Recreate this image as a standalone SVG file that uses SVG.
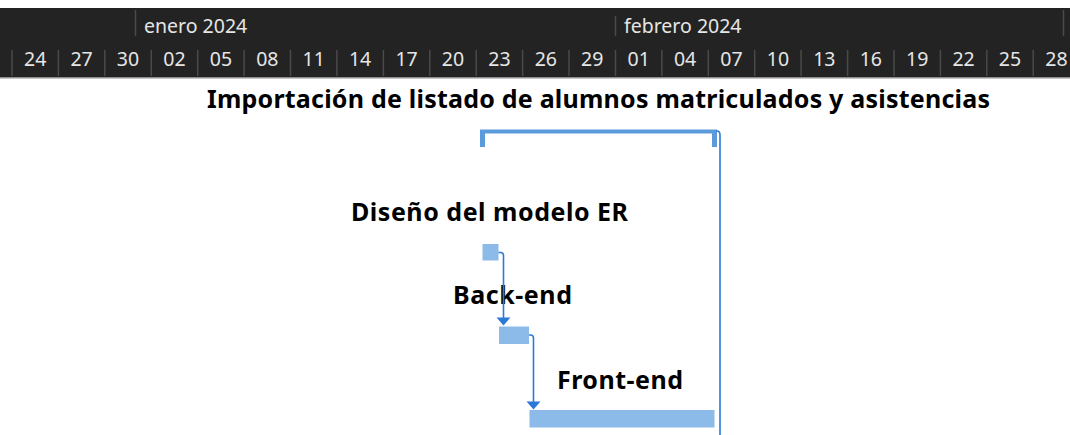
<svg xmlns="http://www.w3.org/2000/svg" width="1070" height="435" viewBox="0 0 1070 435">
<style>
.hdr{font-family:"Noto Sans","Open Sans",sans-serif;font-size:19.5px;fill:#e6e6e6}
.d{text-anchor:middle}
.sep{stroke:#4a4a4a;stroke-width:1.5}
.lbl{font-family:"Noto Sans","Open Sans",sans-serif;font-weight:700;font-size:25px;fill:#000}
.bar{fill:#8cbbea}
.sum{fill:#5b9bdb}
.con{fill:none;stroke:#2b7bd6;stroke-width:1.6}
.arr{fill:#2b7bd6}
</style>
<rect x="0" y="0" width="1070" height="435" fill="#ffffff"/>
<g id="timescale">
<rect x="0" y="8" width="1070" height="70" fill="#232323"/>
<line x1="0" y1="78" x2="1070" y2="78" stroke="#b5b5b5" stroke-width="1.5"/>
<line class="sep" x1="135.5" y1="10" x2="135.5" y2="36"/>
<line class="sep" x1="615.5" y1="16" x2="615.5" y2="36"/>
<line class="sep" x1="1063.5" y1="10" x2="1063.5" y2="36"/>
<text class="hdr" x="144" y="33">enero 2024</text>
<text class="hdr" x="624" y="33">febrero 2024</text>
<g>
<line class="sep" x1="12" y1="50" x2="12" y2="76"/>
<line class="sep" x1="58.4" y1="50" x2="58.4" y2="76"/>
<line class="sep" x1="104.8" y1="50" x2="104.8" y2="76"/>
<line class="sep" x1="151.3" y1="50" x2="151.3" y2="76"/>
<line class="sep" x1="197.7" y1="50" x2="197.7" y2="76"/>
<line class="sep" x1="244.1" y1="50" x2="244.1" y2="76"/>
<line class="sep" x1="290.5" y1="50" x2="290.5" y2="76"/>
<line class="sep" x1="336.9" y1="50" x2="336.9" y2="76"/>
<line class="sep" x1="383.4" y1="50" x2="383.4" y2="76"/>
<line class="sep" x1="429.8" y1="50" x2="429.8" y2="76"/>
<line class="sep" x1="476.2" y1="50" x2="476.2" y2="76"/>
<line class="sep" x1="522.6" y1="50" x2="522.6" y2="76"/>
<line class="sep" x1="569" y1="50" x2="569" y2="76"/>
<line class="sep" x1="615.5" y1="50" x2="615.5" y2="76"/>
<line class="sep" x1="661.9" y1="50" x2="661.9" y2="76"/>
<line class="sep" x1="708.3" y1="50" x2="708.3" y2="76"/>
<line class="sep" x1="754.7" y1="50" x2="754.7" y2="76"/>
<line class="sep" x1="801.1" y1="50" x2="801.1" y2="76"/>
<line class="sep" x1="847.6" y1="50" x2="847.6" y2="76"/>
<line class="sep" x1="894" y1="50" x2="894" y2="76"/>
<line class="sep" x1="940.4" y1="50" x2="940.4" y2="76"/>
<line class="sep" x1="986.8" y1="50" x2="986.8" y2="76"/>
<line class="sep" x1="1033.2" y1="50" x2="1033.2" y2="76"/>
</g>
<g>
<text class="hdr d" x="35.2" y="66">24</text>
<text class="hdr d" x="81.6" y="66">27</text>
<text class="hdr d" x="128" y="66">30</text>
<text class="hdr d" x="174.5" y="66">02</text>
<text class="hdr d" x="220.9" y="66">05</text>
<text class="hdr d" x="267.3" y="66">08</text>
<text class="hdr d" x="313.7" y="66">11</text>
<text class="hdr d" x="360.1" y="66">14</text>
<text class="hdr d" x="406.6" y="66">17</text>
<text class="hdr d" x="453" y="66">20</text>
<text class="hdr d" x="499.4" y="66">23</text>
<text class="hdr d" x="545.8" y="66">26</text>
<text class="hdr d" x="592.2" y="66">29</text>
<text class="hdr d" x="638.7" y="66">01</text>
<text class="hdr d" x="685.1" y="66">04</text>
<text class="hdr d" x="731.5" y="66">07</text>
<text class="hdr d" x="777.9" y="66">10</text>
<text class="hdr d" x="824.3" y="66">13</text>
<text class="hdr d" x="870.8" y="66">16</text>
<text class="hdr d" x="917.2" y="66">19</text>
<text class="hdr d" x="963.6" y="66">22</text>
<text class="hdr d" x="1010" y="66">25</text>
<text class="hdr d" x="1056.4" y="66">28</text>
</g>
</g>
<g id="summary">
<text class="lbl" x="207" y="108" textLength="783">Importación de listado de alumnos matriculados y asistencias</text>
<path class="sum" d="M480,129.5 H717 V147 H712 V133.5 H485 V147 H480 Z"/>
</g>
<g id="task-diseno">
<text class="lbl" x="351" y="221" textLength="277">Diseño del modelo ER</text>
<rect class="bar" x="482.5" y="244" width="16" height="16.5"/>
</g>
<g id="task-backend">
<text class="lbl" x="453" y="304" textLength="119">Back-end</text>
<rect class="bar" x="499" y="326.5" width="30" height="17.5"/>
</g>
<g id="task-frontend">
<text class="lbl" x="557" y="388.5" textLength="126">Front-end</text>
<rect class="bar" x="529.5" y="410" width="185" height="17.5"/>
</g>
<g id="connectors">
<path class="con" d="M716,131 H717 Q720,131 720,135 V435"/>
<path class="con" d="M498.5,252.5 H500.5 Q503.5,252.5 503.5,255.5 V318"/>
<polygon class="arr" points="496.5,317.5 510.5,317.5 503.5,325.5"/>
<path class="con" d="M529,335 H530.5 Q533.5,335 533.5,338 V402"/>
<polygon class="arr" points="526.5,401.5 540.5,401.5 533.5,409.5"/>
</g>
</svg>
